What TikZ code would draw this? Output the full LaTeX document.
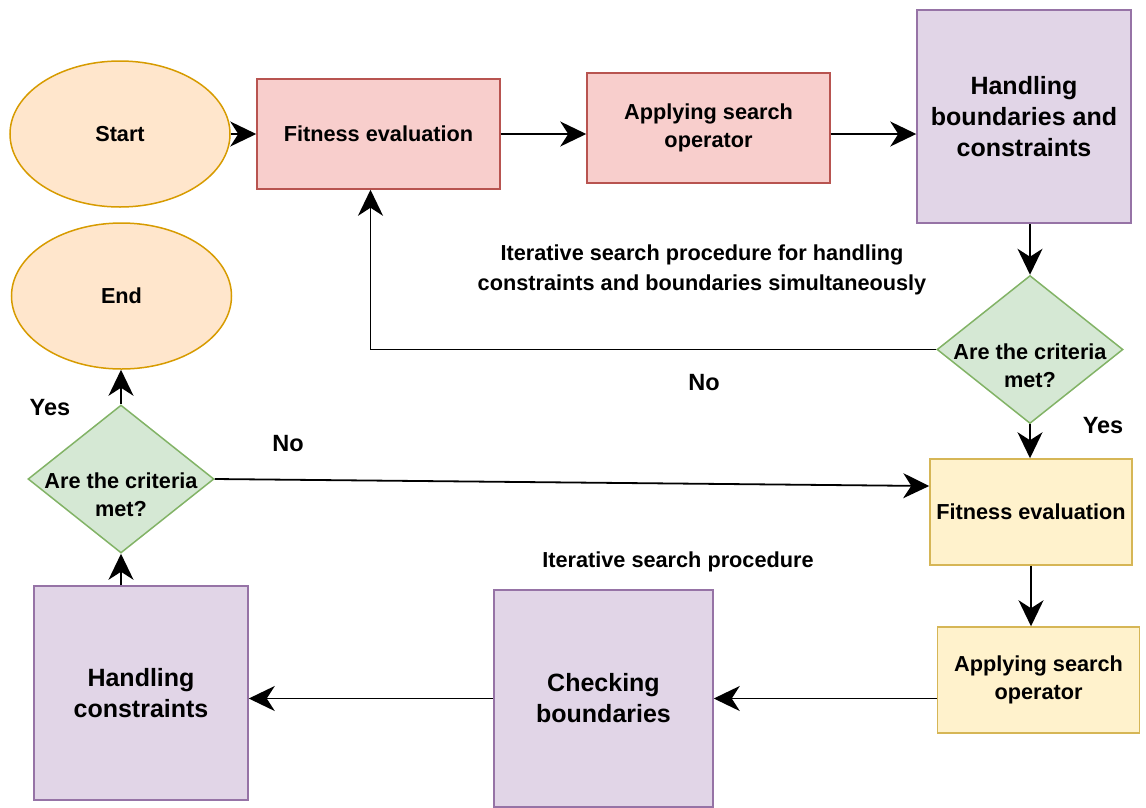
\documentclass[tikz,border=0pt]{standalone}
\usepackage{fontspec}
\setmainfont{Liberation Sans}
\usetikzlibrary{shapes.geometric,arrows.meta}

\definecolor{termfill}{HTML}{FFE6CC}
\definecolor{termline}{HTML}{D79B00}
\definecolor{redfill}{HTML}{F8CECC}
\definecolor{redline}{HTML}{B85450}
\definecolor{purplefill}{HTML}{E1D5E7}
\definecolor{purpleline}{HTML}{9673A6}
\definecolor{greenfill}{HTML}{D5E8D4}
\definecolor{greenline}{HTML}{82B366}
\definecolor{yellowfill}{HTML}{FFF2CC}
\definecolor{yellowline}{HTML}{D6B656}

\begin{document}
\begin{tikzpicture}[x=1pt, y=-1pt,
  every node/.style = {font=\fontsize{21.7}{28}\selectfont\bfseries, align=center, inner sep=0pt},
  terminal/.style = {ellipse, draw=termline, fill=termfill, line width=1.5pt, minimum width=220pt, minimum height=146pt},
  redbox/.style = {rectangle, draw=redline, fill=redfill, line width=1.5pt, minimum width=243pt, minimum height=110pt},
  yellowbox/.style = {rectangle, draw=yellowline, fill=yellowfill, line width=1.5pt, minimum width=202pt, minimum height=106pt},
  purplebox/.style = {rectangle, draw=purpleline, fill=purplefill, line width=1.5pt, font=\fontsize{25}{31}\selectfont\bfseries},
  crit/.style = {diamond, draw=greenline, fill=greenfill, line width=1.5pt, minimum width=186pt, minimum height=148pt},
  crittext/.style = {yshift=-16pt},
  answer/.style = {font=\fontsize{23.5}{28}\selectfont\bfseries},
  flow/.style = {-{Stealth[length=26pt, width=25pt, inset=8pt]}, line width=1.8pt}]

\useasboundingbox (0,0) rectangle (1146,807);

\node[terminal] (start) at (120,134) {Start};
\node[redbox] (fit1) at (378.5,134) {Fitness evaluation};
\node[redbox] (app1) at (708.5,128) {Applying search\\operator};
\node[purplebox, minimum width=214pt, minimum height=213pt] (hbc) at (1024,116.5) {Handling\\boundaries and\\constraints};

\node[crit, label={[crittext]center:{Are the criteria\\met?}}] (crit1) at (1030,349.5) {};
\node[terminal] (end) at (121.5,296) {End};
\node[crit, label={[crittext]center:{Are the criteria\\met?}}] (crit2) at (121,479) {};

\node[yellowbox] (fit2) at (1031,512) {Fitness evaluation};
\node[yellowbox] (app2) at (1038.5,680) {Applying search\\operator};
\node[purplebox, minimum width=219pt, minimum height=217pt] (chk) at (603.5,698.5) {Checking\\boundaries};
\node[purplebox, minimum width=214pt, minimum height=214pt] (hcon) at (141,693) {Handling\\constraints};

\node[font=\fontsize{21.7}{30}\selectfont\bfseries] (loopnote) at (702,270) {Iterative search procedure for handling\\constraints and boundaries simultaneously};
\node (innernote) at (678,562) {Iterative search procedure};
\node[answer] (no1) at (704,383) {No};
\node[answer] (yes1) at (1103,426) {Yes};
\node[answer] (yes2) at (50,408) {Yes};
\node[answer] (no2) at (288,444) {No};

\draw[flow] (start.east) -- (fit1.west);
\draw[flow] (fit1.east) -- (app1.west |- fit1.east);
\draw[flow] (app1.east |- fit1.east) -- (hbc.west |- fit1.east);
\draw[flow] (crit1.north |- hbc.south) -- (crit1.north);
\draw[flow] (crit1.west) -| ([xshift=-8pt]fit1.south);
\draw[flow] (crit1.south) -- (crit1.south |- fit2.north);
\draw[flow] (fit2.south) -- (fit2.south |- app2.north);
\draw[flow] (app2.west |- chk.east) -- (chk.east);
\draw[flow] (chk.west) -- (chk.west -| hcon.east);
\draw[flow] (crit2.south |- hcon.north) -- (crit2.south);
\draw[flow] (crit2.north) -- (crit2.north |- end.south);
\draw[flow] (crit2.east) -- ([yshift=26pt]fit2.west);

\end{tikzpicture}
\end{document}
